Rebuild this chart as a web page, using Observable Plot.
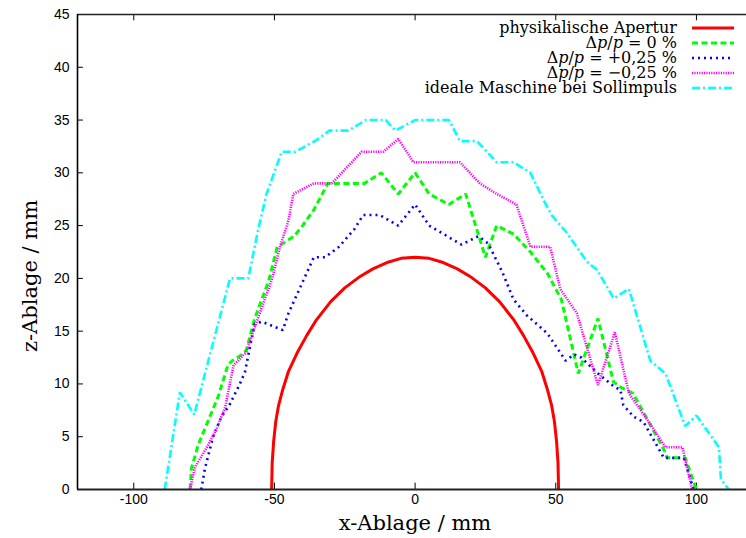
<!DOCTYPE html>
<html>
<head>
<meta charset="utf-8">
<script src="https://cdn.jsdelivr.net/npm/d3@7"></script>
<script src="https://cdn.jsdelivr.net/npm/@observablehq/plot@0.6"></script>
<style>
  html, body { margin: 0; padding: 0; background: #fff; }
</style>
</head>
<body>
<div id="chart"></div>
<script>
// Tick values
const xTicks = [-100, -50, 0, 50, 100];
const yTicks = [0, 5, 10, 15, 20, 25, 30, 35, 40, 45];

// Series values: [x (mm), z (mm)]
const apertur = [[-51,0],[-50.8,2.5],[-50.3,4.5],[-49.5,6.5],[-48.5,8],[-47,9.5],[-45,11.2],[-42,12.9],[-38.5,14.6],[-35,16.1],[-30,17.8],[-25,19.1],[-20,20.1],[-15,20.9],[-10,21.5],[-5,21.9],[0,22],[5,21.9],[10,21.5],[15,20.9],[20,20.1],[25,19.1],[30,17.8],[35,16.1],[38.5,14.6],[42,12.9],[45,11.2],[47,9.5],[48.5,8],[49.5,6.5],[50.3,4.5],[50.8,2.5],[51,0]];

const dp0 = [[-80,0],[-79.5,2],[-77,4.3],[-70,8.8],[-66.5,11.8],[-65,12.2],[-62,12.7],[-60,13.2],[-57,16.2],[-52,19.8],[-49,23],[-47,23.3],[-43,24],[-40,25],[-36,26.5],[-31,29],[-18,29],[-12,30],[-6,28],[0,30],[5,28],[12,27],[18,28],[25,22],[29,25],[35,24.2],[41,22.5],[47,20.5],[52,18],[58,11],[65,16.2],[70.5,10.2],[73,9.7],[77.5,9.1],[89,3.5],[89.5,3],[96,3],[100,0]];

const dpPlus = [[-76,0],[-74.7,2],[-71.8,5],[-68.8,6.9],[-65.8,8.1],[-62.3,10],[-60.5,11.1],[-58.7,13.5],[-57,15.7],[-54.5,15.9],[-47,15.1],[-45,16.7],[-36,22],[-32,22],[-27,23],[-21.5,24.7],[-18.5,26],[-12.5,26],[-6,25],[0,27],[5,25],[16.5,23.2],[22.5,24],[26,23.3],[31,20.6],[35,18],[39.7,16.5],[47,14.8],[53.5,12.2],[56.5,12.8],[59,12.5],[65,11],[70,9.9],[73,9.4],[74,8],[77.7,6.9],[81.2,6.4],[88.4,3],[95.5,3],[99,0]];

const dpMinus = [[-80,0],[-78.3,2.1],[-74,4],[-70.5,5.8],[-67.5,7.8],[-65.5,10.5],[-64.5,11.8],[-60,13],[-57,15.4],[-51,19.8],[-48,23],[-45,25.5],[-43.3,28],[-36,29],[-29.6,29],[-19,32],[-11.3,32],[-6,33.2],[-0.6,31],[16,31],[23,29],[29,28],[36,27],[41,23],[48,23],[51.6,19],[57.5,16.7],[65,9.9],[71,14.9],[76,9.1],[83.6,6.2],[89,4],[95,4],[98.5,0]];

const ideal = [[-89,0],[-83.6,9.2],[-78.5,7.1],[-65.8,20],[-59.3,20],[-55.8,24.6],[-52.8,28],[-47.4,32],[-42.5,32],[-35,33.1],[-30.5,34],[-23.7,34],[-17.5,35],[-10.4,35],[-7,34],[0,35],[12,35],[16,33],[22,33],[29,31],[35,31],[41,30],[45.7,27.4],[48.5,26],[54,24.3],[61,21.6],[64.7,20.8],[70.6,18.1],[76,19],[83.6,12.2],[89,11],[96,6],[100,7],[108,4],[108.7,1],[111.5,0]];

// Series styling
const series = [
  {data: apertur, stroke: "#ff0000", width: 3, dash: null, label: [["physikalische Apertur", false]]},
  {data: dp0, stroke: "#00ff00", width: 3, dash: "6,3.5", label: [["Δ", false],["p", true],["/", false],["p", true],[" = 0 %", false]]},
  {data: dpPlus, stroke: "#0000ff", width: 2.6, dash: "2,4", label: [["Δ", false],["p", true],["/", false],["p", true],[" = +0,25 %", false]]},
  {data: dpMinus, stroke: "#ff00ff", width: 2.6, dash: "1.2,1.2", label: [["Δ", false],["p", true],["/", false],["p", true],[" = −0,25 %", false]]},
  {data: ideal, stroke: "#00ffff", width: 2.6, dash: "8,3,2,3", label: [["ideale Maschine bei Sollimpuls", false]]}
];

const serif = "'DejaVu Serif', 'Liberation Serif', serif";

const chart = Plot.plot({
  width: 746,
  height: 538,
  marginLeft: 77,
  marginRight: 0,
  marginTop: 14,
  marginBottom: 49,
  x: {domain: [-120, 117.8], label: null},
  y: {domain: [0, 45], label: null},
  style: {fontFamily: "'Liberation Sans', Arial, sans-serif", fontSize: "14px", color: "#000", background: "#fff"},
  marks: [
    Plot.axisX({ticks: xTicks, tickSize: 0, tickPadding: 5, label: null, fontSize: 14, tickFormat: d => String(d)}),
    Plot.axisY({ticks: yTicks, tickSize: 0, tickPadding: 8, label: null, fontSize: 14, tickFormat: d => String(d)}),
    // inward ticks
    Plot.ruleX(xTicks, {y1: 0, y2: 0.6, stroke: "#000", strokeWidth: 1}),
    Plot.ruleX(xTicks, {y1: 45, y2: 44.4, stroke: "#000", strokeWidth: 1}),
    Plot.ruleY(yTicks, {x1: -120, x2: -117.9, stroke: "#000", strokeWidth: 1}),
    // curves
    ...series.map(s => Plot.line(s.data, {
      x: d => d[0], y: d => d[1],
      stroke: s.stroke, strokeWidth: s.width,
      strokeDasharray: s.dash, strokeLinejoin: "miter", strokeLinecap: "butt"
    })),
    // frame
    Plot.ruleY([0], {stroke: "#222", strokeWidth: 2}),
    Plot.ruleY([45], {stroke: "#222", strokeWidth: 1.6}),
    Plot.ruleX([-120], {stroke: "#000", strokeWidth: 1.6})
  ]
});

document.getElementById("chart").appendChild(chart);

const svg = d3.select(chart);

// Axis titles
svg.append("text")
  .attr("x", 415).attr("y", 530)
  .attr("text-anchor", "middle")
  .attr("font-family", serif).attr("font-size", 21)
  .attr("fill", "#000")
  .text("x-Ablage / mm");
svg.append("text")
  .attr("transform", "translate(37,276) rotate(-90)")
  .attr("text-anchor", "middle")
  .attr("font-family", serif).attr("font-size", 21)
  .attr("fill", "#000")
  .text("z-Ablage / mm");

// Legend (top right)
const lg = svg.append("g").attr("font-family", serif).attr("font-size", 16);
series.forEach((s, i) => {
  const y = 28 + i * 15;
  const t = lg.append("text").attr("x", 677).attr("y", y).attr("dy", "0.32em").attr("text-anchor", "end").attr("fill", "#000");
  s.label.forEach(([txt, it]) => {
    const ts = t.append("tspan").text(txt);
    if (it) ts.attr("font-style", "italic");
  });
  lg.append("line").attr("x1", 692).attr("x2", 734).attr("y1", y).attr("y2", y)
    .attr("stroke", s.stroke).attr("stroke-width", s.width)
    .attr("stroke-dasharray", s.dash);
});
</script>
</body>
</html>
